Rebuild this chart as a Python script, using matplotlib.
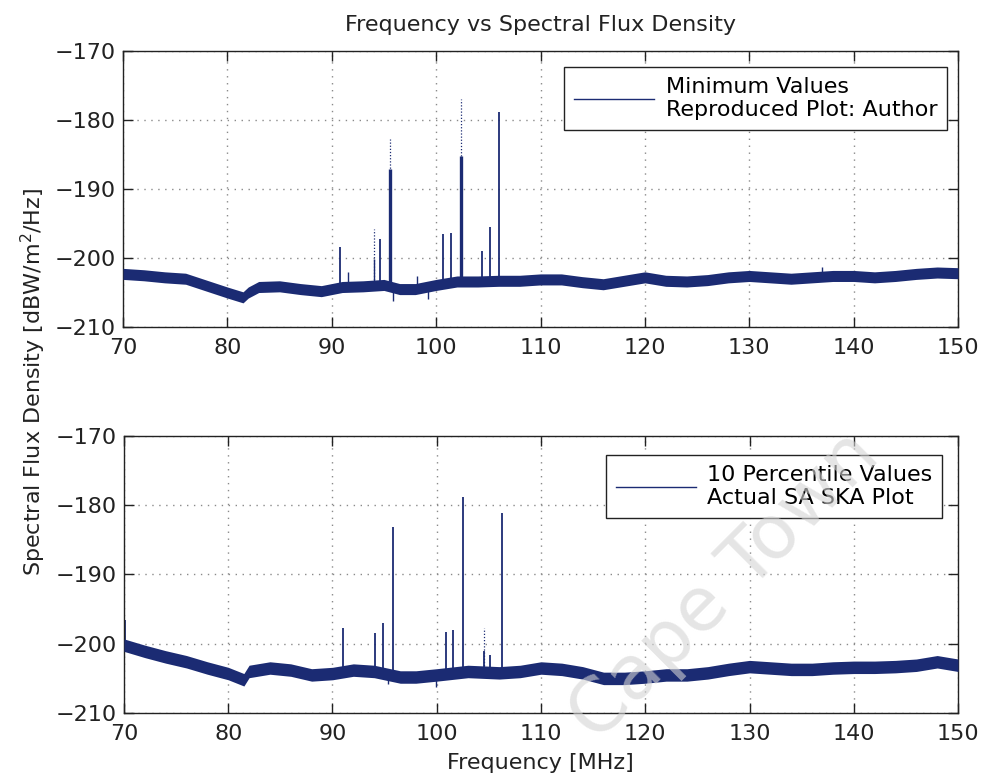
import numpy as np
import matplotlib.pyplot as plt

# ---- data ----
# band centre of the noise floor (dB) at knot frequencies (MHz)
freq_top = [70, 72, 74, 76, 78, 80, 81.5, 82, 83, 85, 87, 89, 91, 93, 95, 96.5, 98,
            100, 102, 104, 106, 108, 110, 112, 114, 116, 118, 120, 122, 124, 126, 128,
            130, 132, 134, 136, 138, 140, 142, 144, 146, 148, 150]
level_top = [-202.3, -202.5, -202.8, -203.0, -204.0, -205.0, -205.7, -205.0, -204.2, -204.1,
             -204.5, -204.8, -204.2, -204.1, -203.9, -204.5, -204.5, -203.9, -203.4, -203.4,
             -203.3, -203.3, -203.1, -203.1, -203.5, -203.8, -203.3, -202.8, -203.3, -203.4,
             -203.2, -202.8, -202.6, -202.8, -203.0, -202.8, -202.6, -202.6, -202.8, -202.6,
             -202.3, -202.1, -202.2]
spread_top = 0.8

freq_bot = [70, 72, 74, 76, 78, 80, 81.5, 82, 84, 86, 88, 90, 92, 94, 96.5, 98, 100, 103,
            106, 108, 110, 112, 114, 116, 118, 120, 122, 124, 126, 128, 130, 132, 134, 136,
            138, 140, 142, 144, 146, 148, 150]
level_bot = [-200.2, -201.1, -201.9, -202.6, -203.5, -204.3, -205.2, -204.0, -203.5, -203.8,
             -204.5, -204.3, -203.8, -204.0, -204.8, -204.8, -204.5, -204.0, -204.2, -204.0,
             -203.5, -203.7, -204.2, -205.0, -205.0, -204.8, -204.5, -204.5, -204.2, -203.7,
             -203.3, -203.5, -203.7, -203.7, -203.5, -203.4, -203.4, -203.3, -203.1, -202.6,
             -203.1]
spread_bot = 0.9

# carrier spikes (frequency, peak)
spike_f_top = [90.8, 91.6, 94.0, 94.6, 95.6, 98.2, 100.65, 101.4, 102.4, 104.4, 105.15, 106.0, 137.0]
spike_p_top = [-198.4, -202.0, -200.1, -197.2, -187.1, -202.6, -196.5, -196.4, -185.2, -199.0,
               -195.5, -178.9, -201.3]
spike_w_top = [1.3, 1.0, 1.0, 1.3, 2.4, 1.0, 1.3, 1.3, 2.4, 1.3, 1.3, 1.3, 1.0]
faint_f_top = [94.0, 95.6, 102.4]
faint_p_top = [-195.8, -182.8, -177.0]
dip_f_top = [95.9, 99.2]
dip_p_top = [-206.3, -206.0]

spike_f_bot = [70.05, 91.0, 94.05, 94.8, 95.8, 100.85, 101.6, 102.55, 104.5, 105.15, 106.3]
spike_p_bot = [-196.6, -197.7, -198.5, -197.0, -183.1, -198.3, -198.0, -178.8, -201.0, -201.6, -181.1]
faint_f_bot = [104.5]
faint_p_bot = [-197.7]
dip_f_bot = [95.3, 99.9]
dip_p_bot = [-205.8, -206.2]

xticks = [70, 80, 90, 100, 110, 120, 130, 140, 150]
yticks = [-210, -200, -190, -180, -170]

navy = '#1b2b73'
plt.rcParams['font.family'] = 'DejaVu Sans'
plt.rcParams['font.size'] = 16

fig = plt.figure(figsize=(9.84, 7.82), dpi=100)
ax_top = fig.add_axes([0.125, 0.5818, 0.8486, 0.353])
ax_bot = fig.add_axes([0.126, 0.0882, 0.8476, 0.3543])


def draw_panel(ax, f, lev, spread, sf, sp, sw, ff, fp, df, dp, label, anchor):
    f = np.array(f)
    lev = np.array(lev)
    base_s = np.interp(sf, f, lev)
    ax.vlines(sf, base_s, sp, colors=navy, linewidth=sw, zorder=2)
    ax.vlines(ff, np.interp(ff, f, lev), fp, colors=navy, linewidth=0.9,
              linestyles=(0, (1, 1.5)), zorder=2)
    ax.vlines(df, np.interp(df, f, lev), dp, colors=navy, linewidth=1.0, zorder=2)
    ax.fill_between(f, lev - spread, lev + spread, color=navy, linewidth=0, zorder=3)
    ax.plot([], [], color=navy, linewidth=1.0, label=label)

    ax.set_xlim(70, 150)
    ax.set_ylim(-210, -170)
    ax.set_xticks(xticks)
    ax.set_yticks(yticks)
    ax.grid(True, color='#8a8a8a', linestyle=(0, (1, 4)), linewidth=1.0)
    ax.tick_params(direction='in', length=7, top=True, right=True, width=1,
                   labelsize=16, colors='#222222')
    ax.tick_params(axis='x', pad=8)
    ax.tick_params(axis='y', pad=5)
    for s in ax.spines.values():
        s.set_linewidth(1.0)
        s.set_color('#222222')
    leg = ax.legend(loc='upper right', bbox_to_anchor=anchor, borderaxespad=0,
                    fancybox=False, edgecolor='#222222', framealpha=1,
                    handlelength=3.6, handletextpad=0.5, borderpad=0.45, fontsize=16)
    leg.get_frame().set_linewidth(1.0)


draw_panel(ax_top, freq_top, level_top, spread_top, spike_f_top, spike_p_top, spike_w_top,
           faint_f_top, faint_p_top, dip_f_top, dip_p_top,
           'Minimum Values\nReproduced Plot: Author', (0.987, 0.942))
draw_panel(ax_bot, freq_bot, level_bot, spread_bot, spike_f_bot, spike_p_bot, 1.3,
           faint_f_bot, faint_p_bot, dip_f_bot, dip_p_bot,
           '10 Percentile Values\nActual SA SKA Plot', (0.981, 0.931))

fig.text(0.549, 0.968, 'Frequency vs Spectral Flux Density', ha='center', va='center',
         fontsize=16, color='#222222')
fig.text(0.549, 0.024, 'Frequency [MHz]', ha='center', va='center', fontsize=16,
         color='#222222')
fig.text(0.034, 0.511, 'Spectral Flux Density [dBW/m$^2$/Hz]', ha='center', va='center',
         rotation=90, fontsize=16, color='#222222')

# faint watermark
fig.text(0.737, 0.25, 'Cape Town', ha='center', va='center', rotation=45,
         fontsize=54, color='#d4d4d4', alpha=0.6, zorder=10)

fig.savefig('out.png', dpi=100)
